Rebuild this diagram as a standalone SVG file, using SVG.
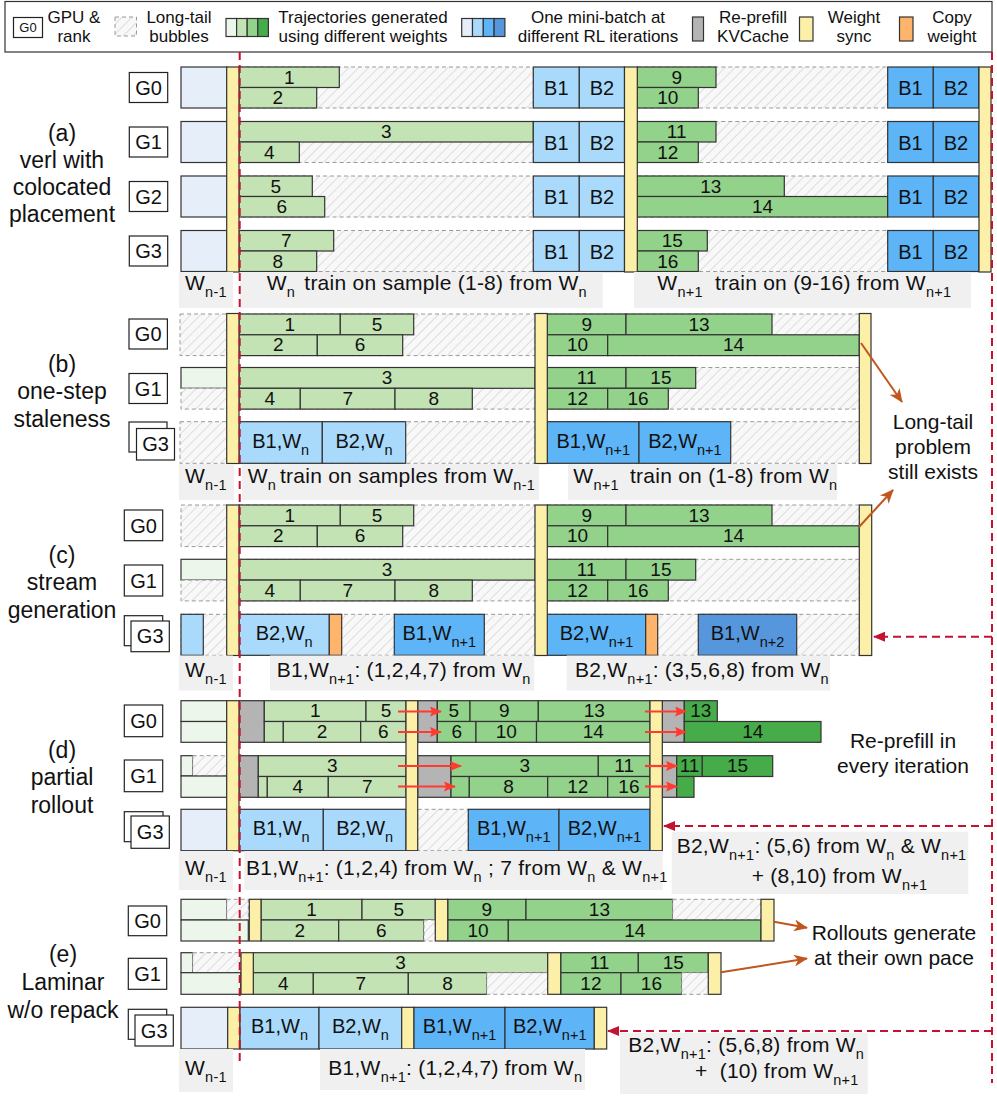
<svg xmlns="http://www.w3.org/2000/svg" width="997" height="1096" viewBox="0 0 997 1096">
<defs>
<pattern id="hatch" width="7" height="7" patternUnits="userSpaceOnUse" patternTransform="rotate(45)">
<rect width="7" height="7" fill="#f8f8f8"/>
<line x1="0" y1="0" x2="0" y2="7" stroke="#cfcfcf" stroke-width="1.3"/>
</pattern>
<marker id="mr" markerWidth="12" markerHeight="10" refX="11" refY="5" orient="auto" markerUnits="userSpaceOnUse"><path d="M0,0 L12,5 L0,10 z" fill="#C41230"/></marker>
<marker id="mb" markerWidth="12" markerHeight="10" refX="11" refY="5" orient="auto" markerUnits="userSpaceOnUse"><path d="M0,0 L12,5 L0,10 L2,5 z" fill="#FF3B30"/></marker>
<marker id="mo" markerWidth="14" markerHeight="12" refX="13" refY="6" orient="auto" markerUnits="userSpaceOnUse"><path d="M0,0 L14,6 L0,12 L4,6 z" fill="#C0561B"/></marker>
</defs>
<style>
text{font-family:"Liberation Sans",Arial,sans-serif;fill:#111}
.n{font-size:19px;text-anchor:middle}
.bt{font-size:20px;text-anchor:middle}
.lb{font-size:21px;letter-spacing:0.25px}
.s{font-size:14.5px}
.an{font-size:21px;text-anchor:middle}
.side{font-size:23px;text-anchor:middle}
.lg{font-size:17px;text-anchor:middle}
.gt{font-size:20px;text-anchor:middle}
.k{stroke:#333;stroke-width:1.2}
.ga{fill:#EDF6EA}
.g1{fill:#C4E3B4}
.g2{fill:#93D28A}
.g3{fill:#46AC4A}
.b0{fill:#E5EEF9}
.b1{fill:#A9DAFC}
.b2{fill:#5DB4F7}
.b3{fill:#5596DD}
.y{fill:#FCF0A8}
.o{fill:#FFB46C}
.gr{fill:#B4B4B4}
.h{fill:url(#hatch);stroke:#9a9a9a;stroke-width:1;stroke-dasharray:4 3}
.gb{fill:#fff;stroke:#222;stroke-width:1.2}
.lab{fill:#F0F0F0}
.rd{stroke:#C41230;stroke-width:2;stroke-dasharray:8 5;fill:none}
.ra{stroke:#FF3B30;stroke-width:2.2;fill:none}
.br{stroke:#C0561B;stroke-width:2;fill:none}
</style>
<rect width="997" height="1096" fill="#fff"/>

<g id="legend">
<rect x="5" y="1.5" width="987" height="50.5" fill="#fff" stroke="#333" stroke-width="1.2"/>
<rect class="gb" x="13.5" y="17.5" width="29" height="20"/>
<text x="28" y="32" style="font-size:13px;text-anchor:middle">G0</text>
<text class="lg" x="74" y="23">GPU &amp;</text><text class="lg" x="74" y="42">rank</text>
<rect class="h" x="115" y="17" width="21.5" height="19"/>
<text class="lg" x="179" y="23">Long-tail</text><text class="lg" x="179" y="42">bubbles</text>
<rect class="k ga" x="226" y="18.5" width="10.6" height="18"/>
<rect class="k g1" x="236.6" y="18.5" width="10.6" height="18"/>
<rect class="k g2" x="247.2" y="18.5" width="10.6" height="18"/>
<rect class="k g3" x="257.8" y="18.5" width="10.6" height="18"/>
<text class="lg" x="363" y="23">Trajectories generated</text><text class="lg" x="363" y="42">using different weights</text>
<rect class="k b0" x="461.7" y="18.5" width="10.8" height="18"/>
<rect class="k b1" x="472.5" y="18.5" width="10.8" height="18"/>
<rect class="k b2" x="483.3" y="18.5" width="10.8" height="18"/>
<rect class="k b3" x="494.1" y="18.5" width="10.8" height="18"/>
<text class="lg" x="598" y="23">One mini-batch at</text><text class="lg" x="598" y="42">different RL iterations</text>
<rect class="k gr" x="692.5" y="17" width="11" height="24"/>
<text class="lg" x="753" y="23">Re-prefill</text><text class="lg" x="753" y="42">KVCache</text>
<rect class="k y" x="799.5" y="17" width="13.5" height="24"/>
<text class="lg" x="854" y="23">Weight</text><text class="lg" x="854" y="42">sync</text>
<rect class="k o" x="899.5" y="17" width="13.5" height="24"/>
<text class="lg" x="952" y="23">Copy</text><text class="lg" x="952" y="42">weight</text>
</g>

<g id="side-labels">
<text class="side" x="62" y="141">(a)</text><text class="side" x="62" y="168">verl with</text><text class="side" x="62" y="195">colocated</text><text class="side" x="62" y="222">placement</text>
<text class="side" x="62" y="372">(b)</text><text class="side" x="62" y="399">one-step</text><text class="side" x="62" y="427">staleness</text>
<text class="side" x="62" y="563">(c)</text><text class="side" x="62" y="590">stream</text><text class="side" x="62" y="618">generation</text>
<text class="side" x="62" y="758">(d)</text><text class="side" x="62" y="785">partial</text><text class="side" x="62" y="813">rollout</text>
<text class="side" x="63" y="962">(e)</text><text class="side" x="63" y="990">Laminar</text><text class="side" x="63" y="1018">w/o repack</text>
</g>

<!-- ============ (a) ============ -->
<g id="a-G0">
<rect class="gb" x="129.3" y="72.5" width="38.4" height="30"/><text class="gt" x="148.5" y="94.5">G0</text>
<rect class="k b0" x="181" y="67" width="46" height="41"/>
<rect class="h" x="239" y="67" width="294.3" height="41"/>
<rect class="k g1" x="239" y="67" width="100.3" height="20.5"/><text class="n" x="289.2" y="83.5">1</text>
<rect class="k g1" x="239" y="87.5" width="77.7" height="20.5"/><text class="n" x="277.9" y="104">2</text>
<rect class="k b1" x="533.3" y="67" width="46" height="41"/><text class="bt" x="556.3" y="95">B1</text>
<rect class="k b1" x="579.3" y="67" width="45.2" height="41"/><text class="bt" x="601.9" y="95">B2</text>
<rect class="h" x="637.3" y="67" width="250.4" height="41"/>
<rect class="k g2" x="637.3" y="67" width="78.7" height="20.5"/><text class="n" x="676.7" y="83.5">9</text>
<rect class="k g2" x="637.3" y="87.5" width="61" height="20.5"/><text class="n" x="667.8" y="104">10</text>
<rect class="k b2" x="887.7" y="67" width="45.6" height="41"/><text class="bt" x="910.5" y="95">B1</text>
<rect class="k b2" x="933.3" y="67" width="45.5" height="41"/><text class="bt" x="956" y="95">B2</text>
</g>
<g id="a-G1">
<rect class="gb" x="129.3" y="127" width="38.4" height="30"/><text class="gt" x="148.5" y="149">G1</text>
<rect class="k b0" x="181" y="121.5" width="46" height="41"/>
<rect class="h" x="239" y="121.5" width="294.3" height="41"/>
<rect class="k g1" x="239" y="121.5" width="294.3" height="20.5"/><text class="n" x="386.2" y="138">3</text>
<rect class="k g1" x="239" y="142" width="60.3" height="20.5"/><text class="n" x="269.2" y="158.5">4</text>
<rect class="k b1" x="533.3" y="121.5" width="46" height="41"/><text class="bt" x="556.3" y="149.5">B1</text>
<rect class="k b1" x="579.3" y="121.5" width="45.2" height="41"/><text class="bt" x="601.9" y="149.5">B2</text>
<rect class="h" x="637.3" y="121.5" width="250.4" height="41"/>
<rect class="k g2" x="637.3" y="121.5" width="78.7" height="20.5"/><text class="n" x="676.7" y="138">11</text>
<rect class="k g2" x="637.3" y="142" width="61" height="20.5"/><text class="n" x="667.8" y="158.5">12</text>
<rect class="k b2" x="887.7" y="121.5" width="45.6" height="41"/><text class="bt" x="910.5" y="149.5">B1</text>
<rect class="k b2" x="933.3" y="121.5" width="45.5" height="41"/><text class="bt" x="956" y="149.5">B2</text>
</g>
<g id="a-G2">
<rect class="gb" x="129.3" y="181.5" width="38.4" height="30"/><text class="gt" x="148.5" y="203.5">G2</text>
<rect class="k b0" x="181" y="176" width="46" height="41"/>
<rect class="h" x="239" y="176" width="294.3" height="41"/>
<rect class="k g1" x="239" y="176" width="73.3" height="20.5"/><text class="n" x="275.7" y="192.5">5</text>
<rect class="k g1" x="239" y="196.5" width="85.7" height="20.5"/><text class="n" x="281.9" y="213">6</text>
<rect class="k b1" x="533.3" y="176" width="46" height="41"/><text class="bt" x="556.3" y="204">B1</text>
<rect class="k b1" x="579.3" y="176" width="45.2" height="41"/><text class="bt" x="601.9" y="204">B2</text>
<rect class="h" x="637.3" y="176" width="250.4" height="41"/>
<rect class="k g2" x="637.3" y="176" width="147" height="20.5"/><text class="n" x="710.8" y="192.5">13</text>
<rect class="k g2" x="637.3" y="196.5" width="250.4" height="20.5"/><text class="n" x="762.5" y="213">14</text>
<rect class="k b2" x="887.7" y="176" width="45.6" height="41"/><text class="bt" x="910.5" y="204">B1</text>
<rect class="k b2" x="933.3" y="176" width="45.5" height="41"/><text class="bt" x="956" y="204">B2</text>
</g>
<g id="a-G3">
<rect class="gb" x="129.3" y="236" width="38.4" height="30"/><text class="gt" x="148.5" y="258">G3</text>
<rect class="k b0" x="181" y="230.5" width="46" height="41"/>
<rect class="h" x="239" y="230.5" width="294.3" height="41"/>
<rect class="k g1" x="239" y="230.5" width="94.7" height="20.5"/><text class="n" x="286.4" y="247">7</text>
<rect class="k g1" x="239" y="251" width="77.7" height="20.5"/><text class="n" x="277.9" y="267.5">8</text>
<rect class="k b1" x="533.3" y="230.5" width="46" height="41"/><text class="bt" x="556.3" y="258.5">B1</text>
<rect class="k b1" x="579.3" y="230.5" width="45.2" height="41"/><text class="bt" x="601.9" y="258.5">B2</text>
<rect class="h" x="637.3" y="230.5" width="250.4" height="41"/>
<rect class="k g2" x="637.3" y="230.5" width="70" height="20.5"/><text class="n" x="672.3" y="247">15</text>
<rect class="k g2" x="637.3" y="251" width="61" height="20.5"/><text class="n" x="667.8" y="267.5">16</text>
<rect class="k b2" x="887.7" y="230.5" width="45.6" height="41"/><text class="bt" x="910.5" y="258.5">B1</text>
<rect class="k b2" x="933.3" y="230.5" width="45.5" height="41"/><text class="bt" x="956" y="258.5">B2</text>
</g>
<g id="a-sync">
<rect class="k y" x="226.7" y="67" width="12.3" height="205"/>
<rect class="k y" x="624.5" y="67" width="12.8" height="205"/>
<rect class="k y" x="979" y="67" width="12" height="205"/>
</g>
<g id="a-labels">
<rect class="lab" x="179" y="272" width="54" height="36"/>
<rect class="lab" x="240" y="272" width="362.7" height="36"/>
<rect class="lab" x="634" y="272" width="337" height="36"/>
<text class="lb" x="185" y="290">W<tspan class="s" dy="7">n-1</tspan></text>
<text class="lb" x="266.7" y="290">W<tspan class="s" dy="7">n</tspan><tspan x="304.3" dy="-7">train on sample (1-8) from W</tspan><tspan class="s" dy="7">n</tspan></text>
<text class="lb" x="657.3" y="290">W<tspan class="s" dy="7">n+1</tspan><tspan x="715" dy="-7">train on (9-16) from W</tspan><tspan class="s" dy="7">n+1</tspan></text>
</g>

<!-- ============ (b) ============ -->
<g id="b-G0">
<rect class="gb" x="129" y="319" width="38.4" height="30"/><text class="gt" x="148.2" y="341">G0</text>
<rect class="h" x="180" y="314" width="47" height="41.6"/>
<rect class="h" x="239" y="314" width="296" height="41.6"/>
<rect class="k g1" x="239" y="314" width="101.3" height="20.8"/><text class="n" x="289.7" y="330.5">1</text>
<rect class="k g1" x="340.3" y="314" width="73.4" height="20.8"/><text class="n" x="377" y="330.5">5</text>
<rect class="k g1" x="239" y="334.8" width="78.3" height="20.8"/><text class="n" x="278.2" y="351.3">2</text>
<rect class="k g1" x="317.3" y="334.8" width="85.4" height="20.8"/><text class="n" x="360" y="351.3">6</text>
<rect class="h" x="547.3" y="314" width="312" height="41.6"/>
<rect class="k g2" x="547.3" y="314" width="78.7" height="20.8"/><text class="n" x="586.7" y="330.5">9</text>
<rect class="k g2" x="626" y="314" width="146" height="20.8"/><text class="n" x="699" y="330.5">13</text>
<rect class="k g2" x="547.3" y="334.8" width="60.4" height="20.8"/><text class="n" x="577.5" y="351.3">10</text>
<rect class="k g2" x="607.7" y="334.8" width="251.6" height="20.8"/><text class="n" x="733.5" y="351.3">14</text>
</g>
<g id="b-G1">
<rect class="gb" x="129" y="373.5" width="38.4" height="30"/><text class="gt" x="148.2" y="395.5">G1</text>
<rect class="k ga" x="181" y="367.5" width="46" height="20.8"/>
<rect class="h" x="181" y="388.3" width="46" height="20.8"/>
<rect class="h" x="239" y="367.5" width="296" height="41.6"/>
<rect class="k g1" x="239" y="367.5" width="296" height="20.8"/><text class="n" x="387" y="384">3</text>
<rect class="k g1" x="239" y="388.3" width="61.3" height="20.8"/><text class="n" x="269.7" y="404.8">4</text>
<rect class="k g1" x="300.3" y="388.3" width="94.7" height="20.8"/><text class="n" x="347.7" y="404.8">7</text>
<rect class="k g1" x="395" y="388.3" width="77.3" height="20.8"/><text class="n" x="433.7" y="404.8">8</text>
<rect class="h" x="547.3" y="367.5" width="312" height="41.6"/>
<rect class="k g2" x="547.3" y="367.5" width="78.7" height="20.8"/><text class="n" x="586.7" y="384">11</text>
<rect class="k g2" x="626" y="367.5" width="69.7" height="20.8"/><text class="n" x="660.9" y="384">15</text>
<rect class="k g2" x="547.3" y="388.3" width="60.4" height="20.8"/><text class="n" x="577.5" y="404.8">12</text>
<rect class="k g2" x="607.7" y="388.3" width="60.6" height="20.8"/><text class="n" x="638" y="404.8">16</text>
</g>
<g id="b-G3">
<rect class="gb" x="129" y="422" width="38" height="30"/>
<rect class="gb" x="136.5" y="428.5" width="38" height="31.5"/><text class="gt" x="155.5" y="451">G3</text>
<rect class="h" x="180" y="421.7" width="47" height="41.6"/>
<rect class="h" x="239" y="421.7" width="296" height="41.6"/>
<rect class="k b1" x="239" y="421.7" width="83.3" height="41.6"/><text class="bt" x="280.7" y="447.5">B1,W<tspan class="s" dy="7">n</tspan></text>
<rect class="k b1" x="322.3" y="421.7" width="83.4" height="41.6"/><text class="bt" x="364" y="447.5">B2,W<tspan class="s" dy="7">n</tspan></text>
<rect class="h" x="547.3" y="421.7" width="312" height="41.6"/>
<rect class="k b2" x="547.3" y="421.7" width="91.7" height="41.6"/><text class="bt" x="593.2" y="447.5">B1,W<tspan class="s" dy="7">n+1</tspan></text>
<rect class="k b2" x="639" y="421.7" width="91.7" height="41.6"/><text class="bt" x="684.9" y="447.5">B2,W<tspan class="s" dy="7">n+1</tspan></text>
</g>
<g id="b-sync">
<rect class="k y" x="226.7" y="313.5" width="12.3" height="150"/>
<rect class="k y" x="535" y="313.5" width="12.3" height="150"/>
<rect class="k y" x="859.3" y="313.5" width="11.7" height="150"/>
</g>
<g id="b-note">
<text class="an" x="933" y="429">Long-tail</text><text class="an" x="933" y="453.5">problem</text><text class="an" x="933" y="478.5">still exists</text>
</g>
<g id="b-labels">
<rect class="lab" x="179" y="464" width="55" height="36"/>
<rect class="lab" x="242" y="464" width="297" height="36"/>
<rect class="lab" x="568" y="464" width="269" height="36"/>
<text class="lb" x="185" y="483">W<tspan class="s" dy="7">n-1</tspan></text>
<text class="lb" x="247.7" y="483">W<tspan class="s" dy="7">n</tspan><tspan x="280" dy="-7">train on samples from W</tspan><tspan class="s" dy="7">n-1</tspan></text>
<text class="lb" x="573.3" y="483">W<tspan class="s" dy="7">n+1</tspan><tspan x="630" dy="-7">train on (1-8) from W</tspan><tspan class="s" dy="7">n</tspan></text>
</g>

<!-- ============ (c) ============ -->
<g id="c-G0">
<rect class="gb" x="124.3" y="510" width="38.4" height="30.7"/><text class="gt" x="143.5" y="532.5">G0</text>
<rect class="h" x="181" y="505" width="46" height="41.6"/>
<rect class="h" x="239" y="505" width="296" height="41.6"/>
<rect class="k g1" x="239" y="505" width="101.3" height="20.8"/><text class="n" x="289.7" y="521.5">1</text>
<rect class="k g1" x="340.3" y="505" width="73.4" height="20.8"/><text class="n" x="377" y="521.5">5</text>
<rect class="k g1" x="239" y="525.8" width="78.3" height="20.8"/><text class="n" x="278.2" y="542.3">2</text>
<rect class="k g1" x="317.3" y="525.8" width="85.4" height="20.8"/><text class="n" x="360" y="542.3">6</text>
<rect class="h" x="547.3" y="505" width="312" height="41.6"/>
<rect class="k g2" x="547.3" y="505" width="78.7" height="20.8"/><text class="n" x="586.7" y="521.5">9</text>
<rect class="k g2" x="626" y="505" width="146" height="20.8"/><text class="n" x="699" y="521.5">13</text>
<rect class="k g2" x="547.3" y="525.8" width="60.4" height="20.8"/><text class="n" x="577.5" y="542.3">10</text>
<rect class="k g2" x="607.7" y="525.8" width="251.6" height="20.8"/><text class="n" x="733.5" y="542.3">14</text>
</g>
<g id="c-G1">
<rect class="gb" x="124.3" y="565" width="38.4" height="31"/><text class="gt" x="143.5" y="587.5">G1</text>
<rect class="k ga" x="181" y="559.3" width="46" height="20.8"/>
<rect class="h" x="181" y="580.1" width="46" height="20.8"/>
<rect class="h" x="239" y="559.3" width="296" height="41.6"/>
<rect class="k g1" x="239" y="559.3" width="296" height="20.8"/><text class="n" x="387" y="575.8">3</text>
<rect class="k g1" x="239" y="580.1" width="61.3" height="20.8"/><text class="n" x="269.7" y="596.6">4</text>
<rect class="k g1" x="300.3" y="580.1" width="94.7" height="20.8"/><text class="n" x="347.7" y="596.6">7</text>
<rect class="k g1" x="395" y="580.1" width="77.3" height="20.8"/><text class="n" x="433.7" y="596.6">8</text>
<rect class="h" x="547.3" y="559.3" width="312" height="41.6"/>
<rect class="k g2" x="547.3" y="559.3" width="78.7" height="20.8"/><text class="n" x="586.7" y="575.8">11</text>
<rect class="k g2" x="626" y="559.3" width="69.7" height="20.8"/><text class="n" x="660.9" y="575.8">15</text>
<rect class="k g2" x="547.3" y="580.1" width="60.4" height="20.8"/><text class="n" x="577.5" y="596.6">12</text>
<rect class="k g2" x="607.7" y="580.1" width="60.6" height="20.8"/><text class="n" x="638" y="596.6">16</text>
</g>
<g id="c-G3">
<rect class="gb" x="124.3" y="615.7" width="38.4" height="30"/>
<rect class="gb" x="131" y="621" width="38.3" height="30.7"/><text class="gt" x="150.2" y="643">G3</text>
<rect class="h" x="181" y="614.3" width="46" height="41"/>
<rect class="k b1" x="181" y="614.3" width="22.3" height="41"/>
<rect class="h" x="239" y="614.3" width="296" height="41"/>
<rect class="k b1" x="239" y="614.3" width="90.3" height="41"/><text class="bt" x="284.2" y="639.8">B2,W<tspan class="s" dy="7">n</tspan></text>
<rect class="k o" x="329.3" y="614.3" width="12.4" height="41"/>
<rect class="k b2" x="394.3" y="614.3" width="90" height="41"/><text class="bt" x="439.3" y="639.8">B1,W<tspan class="s" dy="7">n+1</tspan></text>
<rect class="h" x="547.3" y="614.3" width="312" height="41"/>
<rect class="k b2" x="547.3" y="614.3" width="98.4" height="41"/><text class="bt" x="596.5" y="639.8">B2,W<tspan class="s" dy="7">n+1</tspan></text>
<rect class="k o" x="645.7" y="614.3" width="12" height="41"/>
<rect class="k b3" x="698.3" y="614.3" width="98.4" height="41"/><text class="bt" x="747.5" y="639.8">B1,W<tspan class="s" dy="7">n+2</tspan></text>
</g>
<g id="c-sync">
<rect class="k y" x="226.7" y="505" width="12.3" height="150.5"/>
<rect class="k y" x="535" y="505" width="12.3" height="150.5"/>
<rect class="k y" x="859.3" y="505" width="12.4" height="150.5"/>
</g>
<g id="c-labels">
<rect class="lab" x="179" y="655.5" width="54" height="35"/>
<rect class="lab" x="270" y="655.5" width="264.3" height="35"/>
<rect class="lab" x="566.7" y="655.5" width="263.3" height="35"/>
<text class="lb" x="185" y="677">W<tspan class="s" dy="7">n-1</tspan></text>
<text class="lb" x="276.7" y="677">B1,W<tspan class="s" dy="7">n+1</tspan><tspan dy="-7">: (1,2,4,7) from W</tspan><tspan class="s" dy="7">n</tspan></text>
<text class="lb" x="575" y="677">B2,W<tspan class="s" dy="7">n+1</tspan><tspan dy="-7">: (3,5,6,8) from W</tspan><tspan class="s" dy="7">n</tspan></text>
</g>

<!-- ============ (d) ============ -->
<g id="d-G0">
<rect class="gb" x="124.3" y="705" width="38.4" height="31.7"/><text class="gt" x="143.5" y="728">G0</text>
<rect class="k ga" x="181" y="700.7" width="46" height="20.8"/>
<rect class="k ga" x="181" y="721.5" width="46" height="20.8"/>
<rect class="k gr" x="239" y="700.7" width="25.3" height="41.6"/>
<rect class="k g1" x="264.3" y="700.7" width="101.7" height="20.8"/><text class="n" x="315.2" y="717.2">1</text>
<rect class="k g1" x="366" y="700.7" width="40" height="20.8"/><text class="n" x="386" y="717.2">5</text>
<rect class="k g1" x="264.3" y="721.5" width="19" height="20.8"/>
<rect class="k g1" x="283.3" y="721.5" width="77.4" height="20.8"/><text class="n" x="322" y="738">2</text>
<rect class="k g1" x="360.7" y="721.5" width="45.3" height="20.8"/><text class="n" x="383.4" y="738">6</text>
<rect class="k gr" x="417.7" y="700.7" width="19.6" height="41.6"/>
<rect class="k g2" x="437.3" y="700.7" width="32.7" height="20.8"/><text class="n" x="453.7" y="717.2">5</text>
<rect class="k g2" x="470" y="700.7" width="68.3" height="20.8"/><text class="n" x="504.2" y="717.2">9</text>
<rect class="k g2" x="538.3" y="700.7" width="111.7" height="20.8"/><text class="n" x="594.2" y="717.2">13</text>
<rect class="k g2" x="437.3" y="721.5" width="38.7" height="20.8"/><text class="n" x="456.7" y="738">6</text>
<rect class="k g2" x="476" y="721.5" width="60.5" height="20.8"/><text class="n" x="506.3" y="738">10</text>
<rect class="k g2" x="536.5" y="721.5" width="113.5" height="20.8"/><text class="n" x="593.3" y="738">14</text>
<rect class="k gr" x="662.3" y="700.7" width="22" height="41.6"/>
<rect class="k g3" x="684.3" y="700.7" width="33" height="20.8"/><text class="n" x="700.8" y="717.2">13</text>
<rect class="k g3" x="684.3" y="721.5" width="136.7" height="20.8"/><text class="n" x="752.7" y="738">14</text>
</g>
<g id="d-G1">
<rect class="gb" x="124.3" y="760" width="38.4" height="31.7"/><text class="gt" x="143.5" y="783">G1</text>
<rect class="k ga" x="181" y="755.7" width="11.7" height="20.3"/>
<rect class="h" x="192.7" y="755.7" width="34.3" height="20.3"/>
<rect class="k ga" x="181" y="776" width="46" height="21.3"/>
<rect class="k gr" x="239" y="755.7" width="19.3" height="41.6"/>
<rect class="k g1" x="258.3" y="755.7" width="147.7" height="20.8"/><text class="n" x="332.2" y="772.2">3</text>
<rect class="k g1" x="258.3" y="776.5" width="9" height="20.8"/>
<rect class="k g1" x="267.3" y="776.5" width="61" height="20.8"/><text class="n" x="297.8" y="793">4</text>
<rect class="k g1" x="328.3" y="776.5" width="77.7" height="20.8"/><text class="n" x="367.2" y="793">7</text>
<rect class="k gr" x="417.7" y="755.7" width="33.3" height="41.6"/>
<rect class="k g2" x="451" y="755.7" width="147.3" height="20.8"/><text class="n" x="524.7" y="772.2">3</text>
<rect class="k g2" x="598.3" y="755.7" width="51.7" height="20.8"/><text class="n" x="624.2" y="772.2">11</text>
<rect class="k g2" x="451" y="776.5" width="18.3" height="20.8"/>
<rect class="k g2" x="469.3" y="776.5" width="78.4" height="20.8"/><text class="n" x="508.5" y="793">8</text>
<rect class="k g2" x="547.7" y="776.5" width="60" height="20.8"/><text class="n" x="577.7" y="793">12</text>
<rect class="k g2" x="607.7" y="776.5" width="42.3" height="20.8"/><text class="n" x="628.9" y="793">16</text>
<rect class="k gr" x="662.3" y="755.7" width="14.4" height="41.6"/>
<rect class="k g3" x="676.7" y="755.7" width="25.6" height="20.8"/><text class="n" x="689.5" y="772.2">11</text>
<rect class="k g3" x="702.3" y="755.7" width="70.4" height="20.8"/><text class="n" x="737.5" y="772.2">15</text>
<rect class="k g3" x="676.7" y="776.5" width="17.3" height="20.8"/>
</g>
<g id="d-G3">
<rect class="gb" x="124.3" y="811.7" width="38.7" height="30"/>
<rect class="gb" x="131" y="816" width="38.3" height="32.3"/><text class="gt" x="150.2" y="839">G3</text>
<rect class="k b0" x="181" y="809.3" width="46" height="41.4"/>
<rect class="k b1" x="239" y="809.3" width="84.3" height="41.4"/><text class="bt" x="281.2" y="835">B1,W<tspan class="s" dy="7">n</tspan></text>
<rect class="k b1" x="323.3" y="809.3" width="82.7" height="41.4"/><text class="bt" x="364.7" y="835">B2,W<tspan class="s" dy="7">n</tspan></text>
<rect class="h" x="417.7" y="809.3" width="50.6" height="41.4"/>
<rect class="k b2" x="468.3" y="809.3" width="90.7" height="41.4"/><text class="bt" x="513.7" y="835">B1,W<tspan class="s" dy="7">n+1</tspan></text>
<rect class="k b2" x="559" y="809.3" width="91" height="41.4"/><text class="bt" x="604.5" y="835">B2,W<tspan class="s" dy="7">n+1</tspan></text>
</g>
<g id="d-sync">
<rect class="k y" x="226.7" y="700.7" width="12.3" height="150"/>
<rect class="k y" x="406" y="700.7" width="11.7" height="150"/>
<rect class="k y" x="650" y="700.7" width="12.3" height="150"/>
</g>
<g id="d-note">
<text class="an" x="903" y="748">Re-prefill in</text><text class="an" x="903" y="773">every iteration</text>
</g>
<g id="d-labels">
<rect class="lab" x="179" y="851" width="54" height="39"/>
<rect class="lab" x="244.3" y="851" width="418.4" height="39"/>
<rect class="lab" x="671.7" y="831.7" width="296.6" height="62.3"/>
<text class="lb" x="185" y="874.5">W<tspan class="s" dy="7">n-1</tspan></text>
<text class="lb" x="246" y="875">B1,W<tspan class="s" dy="7">n+1</tspan><tspan dy="-7">: (1,2,4) from W</tspan><tspan class="s" dy="7">n</tspan><tspan dy="-7"> ; 7 from W</tspan><tspan class="s" dy="7">n</tspan><tspan dy="-7"> &amp; W</tspan><tspan class="s" dy="7">n+1</tspan></text>
<text class="lb" x="676.7" y="853">B2,W<tspan class="s" dy="7">n+1</tspan><tspan dy="-7">: (5,6) from W</tspan><tspan class="s" dy="7">n</tspan><tspan dy="-7"> &amp; W</tspan><tspan class="s" dy="7">n+1</tspan></text>
<text class="lb" x="751.7" y="882.7">+ (8,10) from W<tspan class="s" dy="7">n+1</tspan></text>
</g>

<!-- ============ (e) ============ -->
<g id="e-G0">
<rect class="gb" x="128.3" y="906" width="38.4" height="29.7"/><text class="gt" x="147.5" y="928">G0</text>
<rect class="k ga" x="181" y="899.3" width="45.7" height="20.7"/>
<rect class="h" x="226.7" y="899.3" width="21.6" height="20.7"/>
<rect class="k ga" x="181" y="920" width="67.3" height="21"/>
<rect class="k g1" x="261" y="899.3" width="101" height="20.7"/><text class="n" x="311.5" y="915.8">1</text>
<rect class="k g1" x="362" y="899.3" width="73.3" height="20.7"/><text class="n" x="398.7" y="915.8">5</text>
<rect class="k g1" x="261" y="920" width="77.7" height="21"/><text class="n" x="299.9" y="936.6">2</text>
<rect class="k g1" x="338.7" y="920" width="85.3" height="21"/><text class="n" x="381.4" y="936.6">6</text>
<rect class="h" x="424" y="920" width="11.3" height="21"/>
<rect class="k g2" x="447.7" y="899.3" width="78.3" height="20.7"/><text class="n" x="486.9" y="915.8">9</text>
<rect class="k g2" x="526" y="899.3" width="146.7" height="20.7"/><text class="n" x="599.4" y="915.8">13</text>
<rect class="h" x="672.7" y="899.3" width="88.3" height="20.7"/>
<rect class="k g2" x="447.7" y="920" width="60.6" height="21"/><text class="n" x="478" y="936.6">10</text>
<rect class="k g2" x="508.3" y="920" width="252.7" height="21"/><text class="n" x="634.7" y="936.6">14</text>
<rect class="k y" x="249.3" y="899.3" width="11.7" height="41.7"/>
<rect class="k y" x="435.3" y="899.3" width="12.4" height="41.7"/>
<rect class="k y" x="761" y="899.3" width="13" height="41.7"/>
</g>
<g id="e-G1">
<rect class="gb" x="128.3" y="958.3" width="38.4" height="31"/><text class="gt" x="147.5" y="981">G1</text>
<rect class="k ga" x="181" y="952.7" width="11.7" height="20"/>
<rect class="h" x="192.7" y="952.7" width="48" height="20"/>
<rect class="k ga" x="181" y="972.7" width="59.7" height="21.6"/>
<rect class="k g1" x="253.3" y="952.7" width="294.4" height="20"/><text class="n" x="400.5" y="969.2">3</text>
<rect class="k g1" x="253.3" y="972.7" width="60" height="21.6"/><text class="n" x="283.3" y="990">4</text>
<rect class="k g1" x="313.3" y="972.7" width="95" height="21.6"/><text class="n" x="360.8" y="990">7</text>
<rect class="k g1" x="408.3" y="972.7" width="78.4" height="21.6"/><text class="n" x="447.5" y="990">8</text>
<rect class="h" x="486.7" y="972.7" width="61" height="21.6"/>
<rect class="k g2" x="560.7" y="952.7" width="77.6" height="20"/><text class="n" x="599.5" y="969.2">11</text>
<rect class="k g2" x="638.3" y="952.7" width="70" height="20"/><text class="n" x="673.3" y="969.2">15</text>
<rect class="k g2" x="560.7" y="972.7" width="60.3" height="21.6"/><text class="n" x="590.9" y="990">12</text>
<rect class="k g2" x="621" y="972.7" width="60.7" height="21.6"/><text class="n" x="651.4" y="990">16</text>
<rect class="h" x="681.7" y="972.7" width="26.6" height="21.6"/>
<rect class="k y" x="241" y="952.7" width="12.3" height="41.6"/>
<rect class="k y" x="547.7" y="952.7" width="13" height="41.6"/>
<rect class="k y" x="708.3" y="952.7" width="12.7" height="41.6"/>
</g>
<g id="e-G3">
<rect class="gb" x="128.3" y="1009.3" width="38.4" height="30"/>
<rect class="gb" x="135" y="1015" width="38.3" height="31"/><text class="gt" x="154.2" y="1038">G3</text>
<rect class="k b0" x="181" y="1007.3" width="46.7" height="41.7"/>
<rect class="k y" x="227.7" y="1007.3" width="12.3" height="41.7"/>
<rect class="k b1" x="240" y="1007.3" width="79" height="41.7"/><text class="bt" x="279.5" y="1033">B1,W<tspan class="s" dy="7">n</tspan></text>
<rect class="k b1" x="319" y="1007.3" width="82.7" height="41.7"/><text class="bt" x="360.4" y="1033">B2,W<tspan class="s" dy="7">n</tspan></text>
<rect class="k y" x="401.7" y="1007.3" width="12.3" height="41.7"/>
<rect class="k b2" x="414" y="1007.3" width="91" height="41.7"/><text class="bt" x="459.5" y="1033">B1,W<tspan class="s" dy="7">n+1</tspan></text>
<rect class="k b2" x="505" y="1007.3" width="89.3" height="41.7"/><text class="bt" x="549.7" y="1033">B2,W<tspan class="s" dy="7">n+1</tspan></text>
<rect class="k y" x="594.3" y="1007.3" width="12.4" height="41.7"/>
</g>
<g id="e-note">
<text class="an" x="894" y="940">Rollouts generate</text><text class="an" x="894" y="965">at their own pace</text>
</g>
<g id="e-labels">
<rect class="lab" x="179" y="1049" width="54" height="43"/>
<rect class="lab" x="320" y="1049" width="265" height="41"/>
<rect class="lab" x="620" y="1032.7" width="247.7" height="61.3"/>
<text class="lb" x="185" y="1074.5">W<tspan class="s" dy="7">n-1</tspan></text>
<text class="lb" x="328.3" y="1075">B1,W<tspan class="s" dy="7">n+1</tspan><tspan dy="-7">: (1,2,4,7) from W</tspan><tspan class="s" dy="7">n</tspan></text>
<text class="lb" x="628.3" y="1052">B2,W<tspan class="s" dy="7">n+1</tspan><tspan dy="-7">: (5,6,8) from W</tspan><tspan class="s" dy="7">n</tspan></text>
<text class="lb" x="695" y="1078">+&#160; (10) from W<tspan class="s" dy="7">n+1</tspan></text>
</g>

<g id="connectors">
<line class="rd" x1="239.7" y1="52" x2="239.7" y2="1062"/>
<line class="rd" x1="992" y1="52" x2="992" y2="1083"/>
<line class="rd" x1="992" y1="636.7" x2="874" y2="636.7" marker-end="url(#mr)"/>
<line class="rd" x1="992" y1="826" x2="664" y2="826" marker-end="url(#mr)"/>
<line class="rd" x1="992" y1="1031" x2="608" y2="1031" marker-end="url(#mr)"/>
<line class="br" x1="861" y1="343" x2="902" y2="402" marker-end="url(#mo)"/>
<line class="br" x1="859" y1="527" x2="893" y2="490" marker-end="url(#mo)"/>
<line class="br" x1="774" y1="921.7" x2="807" y2="927.7" marker-end="url(#mo)"/>
<line class="br" x1="721" y1="972.3" x2="807" y2="958.5" marker-end="url(#mo)"/>
<line class="ra" x1="398" y1="711.5" x2="441" y2="711.5" marker-end="url(#mb)"/>
<line class="ra" x1="398" y1="732" x2="441" y2="732" marker-end="url(#mb)"/>
<line class="ra" x1="398" y1="766" x2="461" y2="766" marker-end="url(#mb)"/>
<line class="ra" x1="398" y1="786.5" x2="455" y2="786.5" marker-end="url(#mb)"/>
<line class="ra" x1="645" y1="711.5" x2="686" y2="711.5" marker-end="url(#mb)"/>
<line class="ra" x1="645" y1="732" x2="686" y2="732" marker-end="url(#mb)"/>
<line class="ra" x1="645" y1="766" x2="677" y2="766" marker-end="url(#mb)"/>
<line class="ra" x1="645" y1="786.5" x2="677" y2="786.5" marker-end="url(#mb)"/>
</g>
</svg>
